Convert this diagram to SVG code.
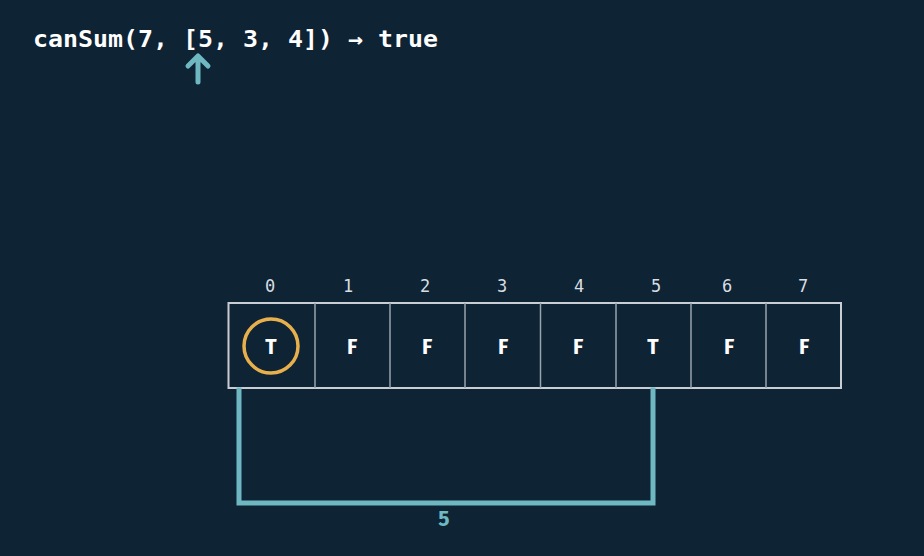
<svg xmlns="http://www.w3.org/2000/svg" width="924" height="556" viewBox="0 0 924 556">
<style>
.idx{font-family:"DejaVu Sans Mono","Liberation Mono",monospace;font-size:17px;fill:#d8dde2;text-anchor:middle}
.val{font-family:"Fira Sans","Open Sans","Liberation Sans",sans-serif;font-weight:bold;font-size:21px;fill:#ffffff;text-anchor:middle}
.div{stroke:#9aa4ad;stroke-width:1.5}
.teal{stroke:#6fb8c1;stroke-width:5;fill:none;stroke-linecap:square}
</style>
<rect width="924" height="556" fill="#0e2334"/>
<g id="title">
<text x="33" y="47" font-family="DejaVu Sans Mono,Liberation Mono,monospace" font-weight="bold" font-size="23" fill="#ffffff" textLength="405" lengthAdjust="spacingAndGlyphs">canSum(7, [5, 3, 4]) → true</text>
</g>
<g id="pointer">
<path d="M198 82 V57 M188 66 L198 56 L208 66" stroke="#6fb8c1" stroke-width="5" fill="none" stroke-linecap="round" stroke-linejoin="round"/>
</g>
<g id="table">
<rect x="228.5" y="303" width="612.5" height="85" fill="none" stroke="#c8ced3" stroke-width="2"/>
<line class="div" x1="315" y1="303" x2="315" y2="388"/>
<line class="div" x1="390" y1="303" x2="390" y2="388"/>
<line class="div" x1="465" y1="303" x2="465" y2="388"/>
<line class="div" x1="540.5" y1="303" x2="540.5" y2="388"/>
<line class="div" x1="616" y1="303" x2="616" y2="388"/>
<line class="div" x1="691" y1="303" x2="691" y2="388"/>
<line class="div" x1="766" y1="303" x2="766" y2="388"/>
</g>
<g id="indices">
<text class="idx" x="270" y="292">0</text>
<text class="idx" x="348" y="292">1</text>
<text class="idx" x="425" y="292">2</text>
<text class="idx" x="502" y="292">3</text>
<text class="idx" x="579" y="292">4</text>
<text class="idx" x="656" y="292">5</text>
<text class="idx" x="727" y="292">6</text>
<text class="idx" x="803" y="292">7</text>
</g>
<g id="cells">
<text class="val" x="271" y="354">T</text>
<text class="val" x="352" y="354">F</text>
<text class="val" x="427" y="354">F</text>
<text class="val" x="503" y="354">F</text>
<text class="val" x="578" y="354">F</text>
<text class="val" x="653" y="354">T</text>
<text class="val" x="729" y="354">F</text>
<text class="val" x="804" y="354">F</text>
</g>
<g id="highlight">
<circle cx="271" cy="346" r="27" fill="none" stroke="#e8b04c" stroke-width="3.5"/>
</g>
<g id="connectors">
<path class="teal" d="M239 390 V503 H653 V390"/>
<text x="444" y="526" font-family="Fira Sans,Open Sans,Liberation Sans,sans-serif" font-weight="bold" font-size="21" fill="#6fb8c1" text-anchor="middle">5</text>
</g>
</svg>
